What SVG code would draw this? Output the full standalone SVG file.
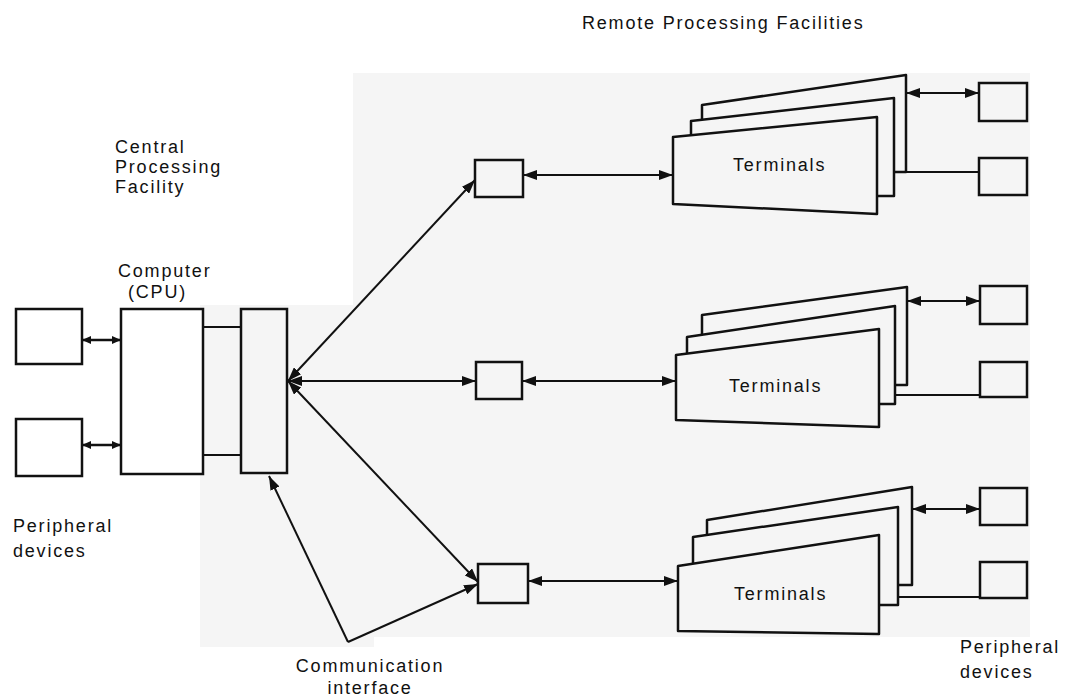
<svg xmlns="http://www.w3.org/2000/svg" width="1070" height="697" viewBox="0 0 1070 697">
<style>
.bg{fill:#f5f5f5;stroke:none}
.box{fill:#ffffff;stroke:#111;stroke-width:2.5}
.gbox{fill:#f5f5f5;stroke:#111;stroke-width:2.5}
.card{fill:#f5f5f5;stroke:#111;stroke-width:2.5;stroke-linejoin:round}
.ln{fill:none;stroke:#111;stroke-width:2}
.dbl{fill:none;stroke:#111;stroke-width:2;marker-start:url(#ah);marker-end:url(#ah)}
.one{fill:none;stroke:#111;stroke-width:2;marker-end:url(#ah)}
.sm{fill:none;stroke:#111;stroke-width:2.5;marker-start:url(#sh);marker-end:url(#sh)}
text{font-family:"Liberation Sans",Arial,sans-serif;font-size:18px;fill:#111;letter-spacing:1.8px}
</style>
<defs>
<marker id="ah" markerUnits="userSpaceOnUse" markerWidth="14" markerHeight="10" refX="14" refY="5" orient="auto-start-reverse" viewBox="0 0 14 10">
<path d="M0,0 L14,5 L0,10 z" fill="#111"/>
</marker>
<marker id="sh" markerUnits="userSpaceOnUse" markerWidth="9" markerHeight="8" refX="9" refY="4" orient="auto-start-reverse" viewBox="0 0 9 8">
<path d="M0,0 L9,4 L0,8 z" fill="#111"/>
</marker>
</defs>

<polygon class="bg" points="353,73 1030,73 1030,637 374,637 374,647 200,647 200,305 353,305"/>

<g id="labels">
<text x="582" y="29">Remote Processing Facilities</text>
<text x="115" y="153">Central</text>
<text x="115" y="173">Processing</text>
<text x="115" y="193">Facility</text>
<text x="118" y="277">Computer</text>
<text x="128" y="298">(CPU)</text>
<text x="13" y="532">Peripheral</text>
<text x="13" y="557">devices</text>
<text x="960" y="653">Peripheral</text>
<text x="960" y="678">devices</text>
<text x="370" y="672" text-anchor="middle">Communication</text>
<text x="370" y="694" text-anchor="middle">interface</text>
</g>

<g id="connectors">
<line class="sm" x1="82" y1="340" x2="121" y2="340"/>
<line class="sm" x1="82" y1="445" x2="121" y2="445"/>
<line class="ln" x1="203" y1="327" x2="241" y2="327"/>
<line class="ln" x1="203" y1="455" x2="241" y2="455"/>
<line class="dbl" x1="288" y1="381" x2="475" y2="180"/>
<line class="dbl" x1="288" y1="381" x2="476" y2="381"/>
<line class="dbl" x1="288" y1="381" x2="478" y2="582"/>
<line class="one" x1="348" y1="642" x2="269" y2="476"/>
<line class="one" x1="348" y1="642" x2="478" y2="584"/>
<line class="dbl" x1="523" y1="175" x2="673" y2="175"/>
<line class="dbl" x1="522" y1="381" x2="676" y2="381"/>
<line class="dbl" x1="528" y1="581" x2="678" y2="581"/>
<line class="dbl" x1="906" y1="93" x2="979" y2="93"/>
<line class="ln" x1="894" y1="172" x2="979" y2="172"/>
<line class="dbl" x1="907" y1="301" x2="980" y2="301"/>
<line class="ln" x1="895" y1="395" x2="980" y2="395"/>
<line class="dbl" x1="912" y1="509" x2="980" y2="509"/>
<line class="ln" x1="898" y1="597" x2="980" y2="597"/>
</g>

<g id="periph-left-1"><rect class="box" x="16" y="309" width="66" height="55"/></g>
<g id="periph-left-2"><rect class="box" x="16" y="419" width="66" height="57"/></g>
<g id="cpu"><rect class="box" x="121" y="309" width="82" height="165"/></g>
<g id="interface"><rect class="gbox" x="241" y="309" width="46" height="164"/></g>

<g id="modem-1"><rect class="gbox" x="475" y="160" width="48" height="37"/></g>
<g id="modem-2"><rect class="gbox" x="476" y="362" width="46" height="37"/></g>
<g id="modem-3"><rect class="gbox" x="478" y="564" width="50" height="39"/></g>

<g id="terminals-1">
<polygon class="card" points="702,105 906,75 906,172 702,172"/>
<polygon class="card" points="691,121 894,98 894,196 691,196"/>
<polygon class="card" points="673,137 877,117 877,214 673,204"/>
<text x="733" y="171">Terminals</text>
</g>
<g id="terminals-2">
<polygon class="card" points="702,315 907,287 907,385 702,385"/>
<polygon class="card" points="687,337 895,306 895,404 687,404"/>
<polygon class="card" points="676,355 879,329 879,427 676,420"/>
<text x="729" y="392">Terminals</text>
</g>
<g id="terminals-3">
<polygon class="card" points="707,520 912,487 912,585 707,585"/>
<polygon class="card" points="693,537 898,507 898,605 693,605"/>
<polygon class="card" points="678,566 879,535 879,634 678,631"/>
<text x="734" y="600">Terminals</text>
</g>

<g id="periph-r1a"><rect class="gbox" x="979" y="83" width="48" height="38"/></g>
<g id="periph-r1b"><rect class="gbox" x="979" y="158" width="48" height="37"/></g>
<g id="periph-r2a"><rect class="gbox" x="980" y="286" width="47" height="38"/></g>
<g id="periph-r2b"><rect class="gbox" x="980" y="362" width="47" height="35"/></g>
<g id="periph-r3a"><rect class="gbox" x="980" y="488" width="47" height="37"/></g>
<g id="periph-r3b"><rect class="gbox" x="980" y="562" width="47" height="36"/></g>
</svg>
